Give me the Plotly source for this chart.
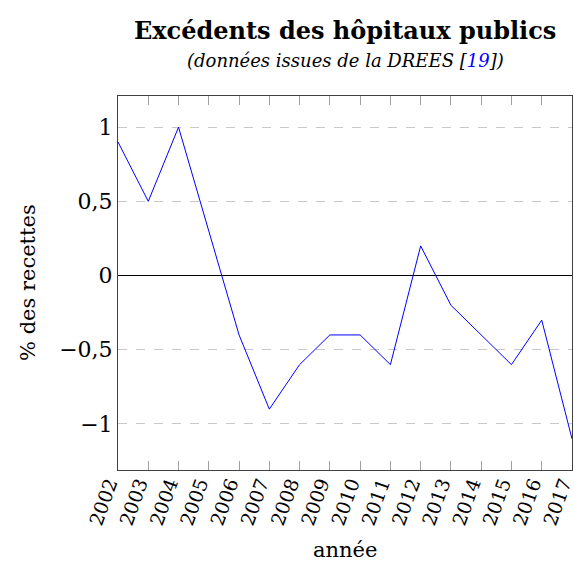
import plotly.graph_objects as go

years = list(range(2002, 2018))
values = [0.9, 0.5, 1.0, 0.3, -0.4, -0.9, -0.6, -0.4, -0.4, -0.6, 0.2, -0.2, -0.4, -0.6, -0.3, -1.1]
ytick_vals = [-1, -0.5, 0, 0.5, 1]
ytick_text = ["−1", "−0,5", "0", "0,5", "1"]

FONT = "DejaVu Serif"

fig = go.Figure()
fig.add_trace(go.Scatter(x=years, y=values, mode="lines",
                         line=dict(color="#0000ff", width=1), showlegend=False))

fig.update_layout(
    width=574, height=571,
    margin=dict(l=118, r=2, t=96, b=101, autoexpand=False),
    paper_bgcolor="white", plot_bgcolor="white",
    font=dict(family=FONT, color="black"),
)
fig.update_xaxes(
    range=[2002, 2017], tickvals=years, ticktext=[str(y) for y in years],
    tickangle=-70, tickfont=dict(size=19, family=FONT), automargin=False,
    ticklabeloverflow="allow", ticklabelstandoff=-6, ticklabelshift=-9,
    ticks="inside", ticklen=9, tickcolor="#a0a0a0",
    showline=True, linecolor="#404040", linewidth=1, mirror="ticks",
    showgrid=False, zeroline=False,
)
fig.update_yaxes(
    range=[-1.31, 1.21], tickvals=ytick_vals, ticktext=ytick_text,
    tickfont=dict(size=22, family=FONT), ticks="", automargin=False,
    showline=True, linecolor="#404040", linewidth=1, mirror=True,
    showgrid=True, gridcolor="#c8c8c8", griddash="dash", gridwidth=1,
    zeroline=True, zerolinecolor="black", zerolinewidth=1,
)
fig.add_annotation(x=0.5, y=1, xref="paper", yref="paper", yshift=66, yanchor="middle",
                   text="<b>Excédents des hôpitaux publics</b>", showarrow=False,
                   font=dict(size=24, family=FONT, color="black"))
fig.add_annotation(x=0.5, y=1, xref="paper", yref="paper", yshift=36, yanchor="middle",
                   text="<i>(données issues de la DREES [<span style='color:#0000ff'>19</span>])</i>",
                   showarrow=False, font=dict(size=18, family=FONT, color="black"))
fig.add_annotation(x=0.5, y=0, xref="paper", yref="paper", yshift=-80, yanchor="middle",
                   text="année", showarrow=False, font=dict(size=21, family=FONT, color="black"))
fig.add_annotation(x=0, y=0.5, xref="paper", yref="paper", xshift=-90, xanchor="center",
                   text="% des recettes", textangle=-90, showarrow=False,
                   font=dict(size=21, family=FONT, color="black"))

fig.write_html("out.html", config={"displayModeBar": False},
               post_script="document.body.style.margin='0';document.body.style.overflow='hidden';")
